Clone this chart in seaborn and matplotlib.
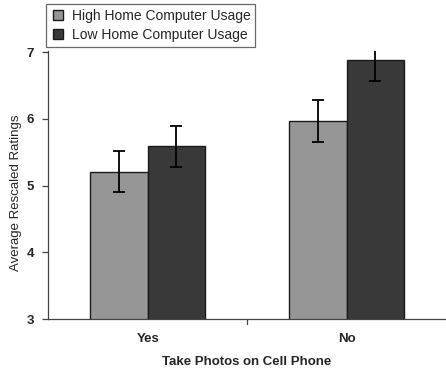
import matplotlib
matplotlib.use("Agg")
import matplotlib.pyplot as plt
import seaborn as sns
import pandas as pd
from matplotlib.lines import Line2D

categories = ["Yes", "No"]
groups = ["High Home Computer Usage", "Low Home Computer Usage"]
high_vals = [5.21, 5.97]
low_vals = [5.59, 6.88]
high_err = [0.31, 0.31]
low_err = [0.31, 0.31]
yticks = [3, 4, 5, 6, 7]

colors = ["#969696", "#393939"]

df = pd.DataFrame({
    "cat": categories * 2,
    "grp": [groups[0]] * 2 + [groups[1]] * 2,
    "val": high_vals + low_vals,
    "err": high_err + low_err,
})

sns.set_style("white")
plt.rcParams["font.family"] = ["Liberation Sans", "DejaVu Sans"]

fig = plt.figure(figsize=(4.46, 3.71), dpi=100)
ax = fig.add_axes([0.108, 0.140, 0.892, 0.723])

sns.barplot(data=df, x="cat", y="val", hue="grp", order=categories,
            hue_order=groups, palette=colors, errorbar=None, width=0.575,
            edgecolor="#1a1a1a", linewidth=1.0, ax=ax, legend=False, saturation=1)

# error bars at bar centres
for cont, grp in zip(ax.containers, groups):
    sub = df[df.grp == grp].set_index("cat").loc[categories]
    xs = [p.get_x() + p.get_width() / 2 for p in cont.patches]
    ys = [p.get_height() for p in cont.patches]
    eb = ax.errorbar(xs, ys, yerr=sub["err"].values, fmt="none", ecolor="black",
                     elinewidth=1.3, capsize=4, capthick=1.3, zorder=5)
    for art in eb.lines[1] + eb.lines[2]:
        art.set_clip_on(True)
        art.set_clip_box(ax.bbox)

ax.set_ylim(3, 7.02)
ax.set_xlim(-0.5, 1.5)
ax.set_yticks(yticks)
ax.set_yticklabels([str(t) for t in yticks], fontweight="bold", fontsize=9.5)
ax.set_xticks([0, 1])
ax.set_xticklabels(categories, fontweight="bold", fontsize=9.5)
ax.tick_params(axis="x", length=0, pad=10)
ax.tick_params(axis="y", length=4, direction="out", left=True, width=0.9, color="#444444", pad=6)
for xb in [0.5]:
    ax.plot([xb, xb], [0, -0.02], transform=ax.get_xaxis_transform(), color="#444444",
            lw=0.9, clip_on=False)

for s in ["top", "right"]:
    ax.spines[s].set_visible(False)
for s in ["left", "bottom"]:
    ax.spines[s].set_color("#444444")
    ax.spines[s].set_linewidth(0.9)

ax.set_xlabel("Take Photos on Cell Phone", fontweight="bold", fontsize=9.5, labelpad=8)
ax.set_ylabel("Average Rescaled Ratings", fontsize=9.5, labelpad=8)
ax.yaxis.set_label_coords(-0.065, 0.47)

handles = [Line2D([0], [0], marker="s", linestyle="none", markersize=7,
                  markerfacecolor=c, markeredgecolor="#1a1a1a", markeredgewidth=1.0)
           for c in colors]
leg = fig.legend(handles, groups, loc="upper left", bbox_to_anchor=(0.103, 0.99),
                 frameon=True, fancybox=False, fontsize=10, handlelength=1.0,
                 handletextpad=0.5, borderpad=0.35, labelspacing=0.4,
                 borderaxespad=0)
leg.get_frame().set_edgecolor("#444444")
leg.get_frame().set_linewidth(0.9)

fig.savefig("out.png", dpi=100)
